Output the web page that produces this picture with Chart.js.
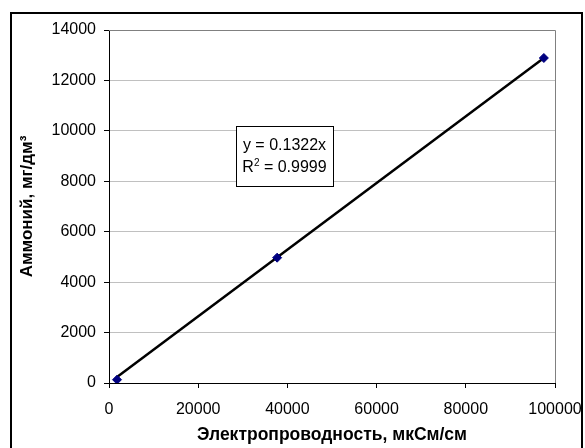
<!DOCTYPE html>
<html lang="ru">
<head>
  <meta charset="UTF-8" />
  <title>Аммоний / электропроводность</title>
  <style>
    html, body {
      margin: 0;
      padding: 0;
      background: white;
    }
    #chart {
      display: block;
    }
  </style>
</head>
<body>

<canvas id="chart" width="585" height="448"></canvas>

<script src="https://cdn.jsdelivr.net/npm/chart.js"></script>

<script>
  // Measured points (conductivity, ammonium)
  const conductivity = [1800, 37700, 97500];
  const ammonium = [130, 4970, 12890];

  // Linear trendline through origin, y = 0.1322x, drawn between the outer points
  const trendX = [1800, 97500];
  const trendY = [238, 12890];

  const equationText = 'y = 0.1322x';
  const r2Value = ' = 0.9999';

  const xTitle = 'Электропроводность, мкСм/см';
  const yTitle = 'Аммоний, мг/дм³';

  const FONT = 'Arial, "Liberation Sans", sans-serif';

  // outer frame + gray top/right border of the plot
  const framePlugin = {
    id: 'frame',
    beforeDraw(chart) {
      const c = chart.ctx;
      c.save();
      c.fillStyle = 'white';
      c.fillRect(0, 0, chart.width, chart.height);
      c.strokeStyle = 'black';
      c.lineWidth = 2;
      c.strokeRect(11, 13, 571, 460);
      c.restore();
    },
    afterDraw(chart) {
      const a = chart.chartArea;
      const c = chart.ctx;
      c.save();
      c.strokeStyle = '#808080';
      c.lineWidth = 1;
      c.beginPath();
      c.moveTo(a.left, a.top + 0.5);
      c.lineTo(a.right + 0.5, a.top + 0.5);
      c.lineTo(a.right + 0.5, a.bottom);
      c.stroke();

      // equation label
      const bx = a.left + 127, by = a.top + 96, bw = 97, bh = 60;
      c.fillStyle = 'white';
      c.fillRect(bx, by, bw, bh);
      c.strokeStyle = 'black';
      c.strokeRect(bx + 0.5, by + 0.5, bw, bh);
      c.fillStyle = 'black';
      c.font = '16px ' + FONT;
      c.textAlign = 'center';
      c.textBaseline = 'middle';
      c.fillText(equationText, bx + bw / 2, by + 20);

      // R² with a real superscript
      c.textAlign = 'left';
      const wR = c.measureText('R').width;
      const wV = c.measureText(r2Value).width;
      c.font = '10px ' + FONT;
      const w2 = c.measureText('2').width;
      let x0 = bx + bw / 2 - (wR + w2 + wV) / 2;
      const y2 = by + 42;
      c.font = '16px ' + FONT;
      c.fillText('R', x0, y2);
      c.font = '10px ' + FONT;
      c.fillText('2', x0 + wR, y2 - 5);
      c.font = '16px ' + FONT;
      c.fillText(r2Value, x0 + wR + w2, y2);
      c.restore();
    }
  };

  const plain = v => String(v);

  const ctx = document.getElementById('chart').getContext('2d');
  const chart = new Chart(ctx, {
    type: 'scatter',
    data: {
      datasets: [
        {
          label: 'Аммоний',
          data: conductivity.map((x, i) => ({ x: x, y: ammonium[i] })),
          pointStyle: 'rectRot',
          pointRadius: 4.5,
          backgroundColor: '#000080',
          borderColor: '#000080',
          borderWidth: 1,
          showLine: false
        },
        {
          label: 'Линейный тренд',
          data: trendX.map((x, i) => ({ x: x, y: trendY[i] })),
          showLine: true,
          borderColor: 'black',
          borderWidth: 2.5,
          pointRadius: 0
        }
      ]
    },
    options: {
      responsive: false,
      animation: false,
      layout: {
        padding: { left: 0, top: 30, right: 30, bottom: 0 }
      },
      plugins: {
        legend: { display: false },
        tooltip: { enabled: false }
      },
      scales: {
        x: {
          type: 'linear',
          min: 0,
          max: 100000,
          afterFit: s => {
            s.height = 65;
            s.paddingLeft = 0;
            s.paddingRight = 0;
          },
          ticks: {
            stepSize: 20000,
            color: 'black',
            padding: 12,
            maxRotation: 0,
            callback: plain,
            font: { family: FONT, size: 16 }
          },
          grid: {
            drawOnChartArea: false,
            tickLength: 5,
            tickColor: 'black'
          },
          border: { color: 'black', width: 1 },
          title: {
            display: true,
            text: xTitle,
            color: 'black',
            padding: { top: 0, bottom: 2 },
            font: { family: FONT, size: 17.5, weight: 'bold' }
          }
        },
        y: {
          type: 'linear',
          min: 0,
          max: 14000,
          afterFit: s => { s.width = 109; },
          ticks: {
            stepSize: 2000,
            color: 'black',
            padding: 8,
            callback: plain,
            font: { family: FONT, size: 16 }
          },
          grid: {
            color: '#c0c0c0',
            tickLength: 5,
            tickColor: 'black'
          },
          border: { color: 'black', width: 1 },
          title: {
            display: true,
            text: yTitle,
            color: 'black',
            padding: { top: 17, bottom: 0 },
            font: { family: FONT, size: 17, weight: 'bold' }
          }
        }
      }
    },
    plugins: [framePlugin]
  });
</script>

</body>
</html>
